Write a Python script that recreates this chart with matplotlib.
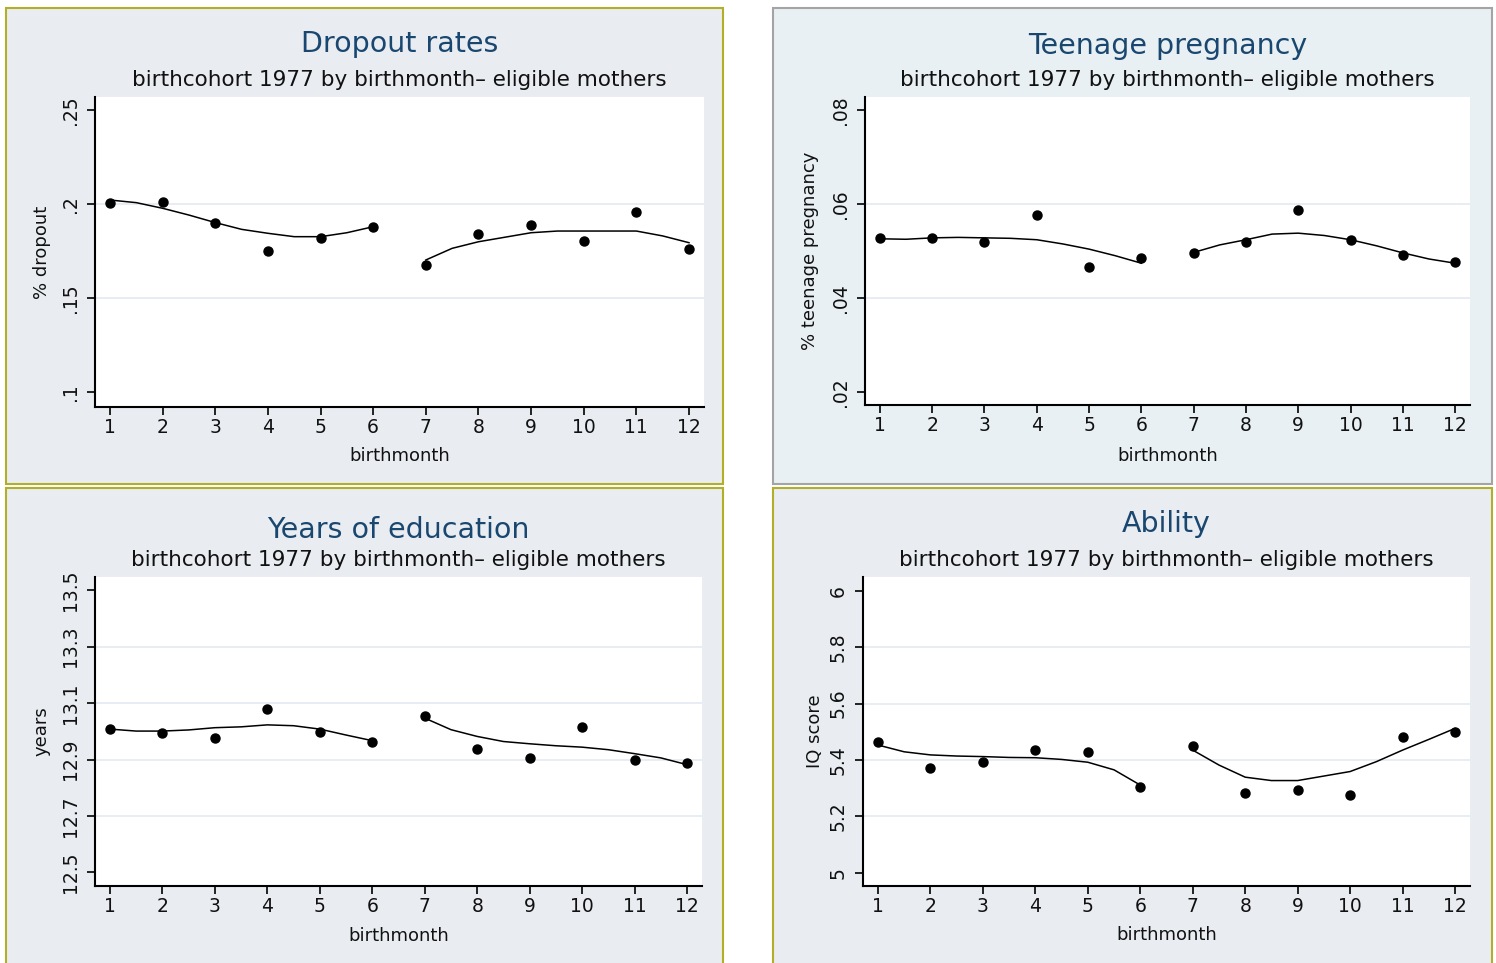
import numpy as np
import matplotlib.pyplot as plt
from matplotlib.patches import Rectangle

# ---------------------------------------------------------------------
# Data: cohort means by birth month and the fitted curves (two halves)
# ---------------------------------------------------------------------
months = [1, 2, 3, 4, 5, 6, 7, 8, 9, 10, 11, 12]
fit_x_first = [1, 1.5, 2, 2.5, 3, 3.5, 4, 4.5, 5, 5.5, 6]
fit_x_second = [7, 7.5, 8, 8.5, 9, 9.5, 10, 10.5, 11, 11.5, 12]

dropout = [0.2004, 0.2012, 0.1897, 0.1752, 0.1818, 0.1879,
           0.1676, 0.1839, 0.1888, 0.1803, 0.1956, 0.1761]
dropout_fit_first = [0.2021, 0.2007, 0.1977, 0.1941, 0.1901, 0.1865,
                     0.1844, 0.1826, 0.1826, 0.1847, 0.1879]
dropout_fit_second = [0.1702, 0.1764, 0.1799, 0.1823, 0.1847, 0.1856,
                      0.1856, 0.1856, 0.1856, 0.1830, 0.1794]

teen = [0.0527, 0.0527, 0.0520, 0.0577, 0.0465, 0.0486,
        0.0496, 0.0520, 0.0587, 0.0523, 0.0492, 0.0476]
teen_fit_first = [0.0526, 0.0525, 0.0528, 0.0529, 0.0528, 0.0527,
                  0.0524, 0.0515, 0.0504, 0.0490, 0.0474]
teen_fit_second = [0.0497, 0.0513, 0.0524, 0.0536, 0.0538, 0.0533,
                   0.0524, 0.0511, 0.0496, 0.0483, 0.0474]

years = [13.010, 12.994, 12.976, 13.079, 12.999, 12.961,
         13.056, 12.937, 12.904, 13.017, 12.900, 12.888]
years_fit_first = [13.008, 13.001, 13.001, 13.005, 13.013, 13.016,
                   13.023, 13.020, 13.008, 12.987, 12.967]
years_fit_second = [13.047, 13.006, 12.982, 12.964, 12.956, 12.949,
                    12.944, 12.935, 12.921, 12.906, 12.882]

iq = [5.465, 5.370, 5.394, 5.435, 5.429, 5.305,
      5.450, 5.284, 5.294, 5.276, 5.483, 5.500]
iq_fit_first = [5.453, 5.429, 5.418, 5.414, 5.412, 5.409,
                5.408, 5.402, 5.392, 5.365, 5.311]
iq_fit_second = [5.435, 5.382, 5.339, 5.327, 5.327, 5.343,
                 5.359, 5.394, 5.435, 5.473, 5.512]

subtitle = "birthcohort 1977 by birthmonth\u2013 eligible mothers"

# ---------------------------------------------------------------------
# Figure in pixel units
# ---------------------------------------------------------------------
W, H = 1496, 963
fig = plt.figure(figsize=(W / 100, H / 100), dpi=100)
fig.patch.set_facecolor("white")
plt.rcParams["font.family"] = ["DejaVu Sans"]


def fx(x):
    return x / W


def fy(y):
    return 1 - y / H


def panel(x0, y0, x1, y1, face, edge):
    fig.patches.append(Rectangle((fx(x0), fy(y1)), fx(x1 - x0), (y1 - y0) / H,
                                 transform=fig.transFigure, facecolor=face,
                                 edgecolor=edge, linewidth=1.5, zorder=-10))


TITLE_COLOR = "#1a476f"
GRID_COLOR = "#e4eaf1"

panels = [
    dict(box=(6, 8, 723, 484), face="#e9edf2", edge="#b3ae28",
         plot=(95, 97, 704, 407), title="Dropout rates", ty=44, sy=80, xly=456,
         ylab="% dropout", ylx=42, y=dropout, f1=dropout_fit_first, f2=dropout_fit_second,
         yticks=[0.1, 0.15, 0.2, 0.25], ylabels=[".1", ".15", ".2", ".25"],
         ylim=(0.092, 0.2569)),
    dict(box=(773, 8, 1492, 484), face="#e8f0f3", edge="#a4a4a4",
         plot=(865, 97, 1470, 405), title="Teenage pregnancy", ty=46, sy=80, xly=456,
         ylab="% teenage pregnancy", ylx=810, y=teen, f1=teen_fit_first, f2=teen_fit_second,
         yticks=[0.02, 0.04, 0.06, 0.08], ylabels=[".02", ".04", ".06", ".08"],
         ylim=(0.0172, 0.0828)),
    dict(box=(6, 488, 723, 968), face="#e9edf2", edge="#b3ae28",
         plot=(95, 577, 702, 886), title="Years of education", ty=530, sy=560, xly=936,
         ylab="years", ylx=42, y=years, f1=years_fit_first, f2=years_fit_second,
         yticks=[12.5, 12.7, 12.9, 13.1, 13.3, 13.5],
         ylabels=["12.5", "12.7", "12.9", "13.1", "13.3", "13.5"],
         ylim=(12.452, 13.547)),
    dict(box=(773, 488, 1492, 968), face="#e9edf2", edge="#b3ae28",
         plot=(863, 577, 1470, 886), title="Ability", ty=524, sy=560, xly=935,
         ylab="IQ score", ylx=815, y=iq, f1=iq_fit_first, f2=iq_fit_second,
         yticks=[5, 5.2, 5.4, 5.6, 5.8, 6],
         ylabels=["5", "5.2", "5.4", "5.6", "5.8", "6"],
         ylim=(4.953, 6.049)),
]

for p in panels:
    panel(*p["box"], p["face"], p["edge"])
    x0, y0, x1, y1 = p["plot"]
    ax = fig.add_axes([fx(x0), fy(y1), fx(x1 - x0), (y1 - y0) / H])
    ax.set_zorder(1)
    ax.set_facecolor("white")

    # interior gridlines only
    for t in p["yticks"][1:-1]:
        ax.axhline(t, color=GRID_COLOR, linewidth=1.2, zorder=1)

    ax.plot(fit_x_first, p["f1"], color="black", linewidth=1.1, zorder=3)
    ax.plot(fit_x_second, p["f2"], color="black", linewidth=1.1, zorder=3)
    ax.plot(months, p["y"], "o", color="black", markersize=6.5, zorder=4)

    ax.set_xlim(0.715, 12.285)
    ax.set_ylim(*p["ylim"])
    ax.set_xticks(months)
    ax.set_xticklabels([str(m) for m in months], fontsize=13.5, color="#111111")
    ax.set_yticks(p["yticks"])
    ax.set_yticklabels(p["ylabels"], fontsize=13.5, rotation=90, va="center",
                       color="#111111")
    ax.tick_params(direction="out", length=6, width=1.2, color="black")
    ax.tick_params(axis="x", pad=2)
    ax.tick_params(axis="y", pad=5)
    for side in ("top", "right"):
        ax.spines[side].set_visible(False)
    for side in ("left", "bottom"):
        ax.spines[side].set_linewidth(1.5)

    cx = (x0 + x1) / 2
    fig.text(fx(cx), fy(p["ty"]), p["title"], fontsize=20.5, color=TITLE_COLOR,
             ha="center", va="center")
    fig.text(fx(cx), fy(p["sy"]), subtitle, fontsize=15.5, color="#111111",
             ha="center", va="center")
    fig.text(fx(cx), fy(p["xly"]), "birthmonth", fontsize=13, color="#111111",
             ha="center", va="center")
    fig.text(fx(p["ylx"]), fy((y0 + y1) / 2), p["ylab"], fontsize=13,
             color="#111111", ha="center", va="center", rotation=90)

fig.savefig("out.png", dpi=100, facecolor=fig.get_facecolor())
